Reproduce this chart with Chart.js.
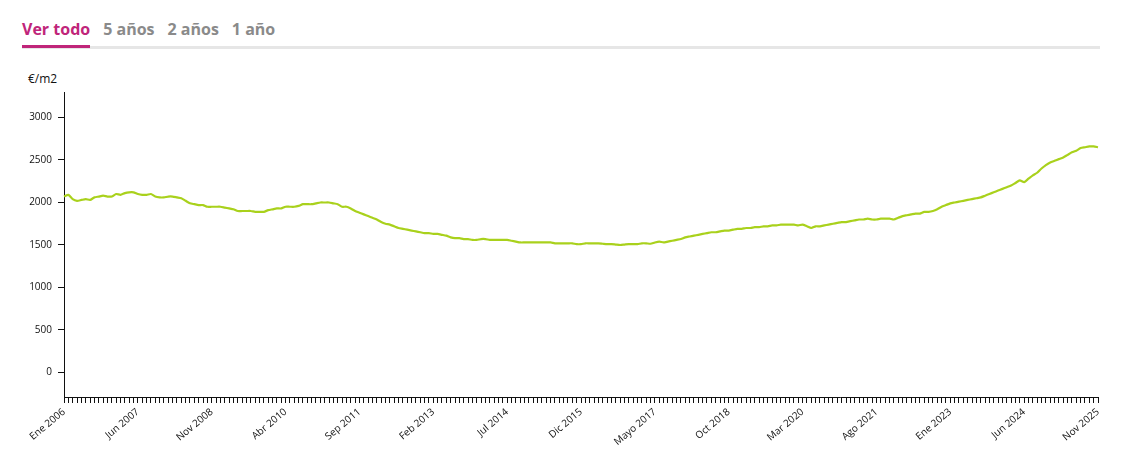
<!DOCTYPE html>
<html><head><meta charset="utf-8">
<script src="https://cdn.jsdelivr.net/npm/chart.js"></script>
<style>
body{margin:0;background:#fff;font-family:"Open Sans",sans-serif;}
.tabs{position:absolute;left:22px;top:18px;width:1078px;height:28px;border-bottom:3px solid #e6e6e6;}
.tabs span{display:inline-block;margin-right:13px;font-size:16px;font-weight:700;color:#8a8a8a;padding-bottom:5px;}
.tabs span.on{color:#c0257a;border-bottom:3px solid #c0257a;}
.unit{position:absolute;left:28px;top:70px;font-size:12px;color:#111;}
#wrap{position:absolute;left:0;top:80px;width:1110px;height:371px;}
</style></head><body>
<div class="tabs"><span class="on">Ver todo</span><span>5 años</span><span>2 años</span><span>1 año</span></div>
<div class="unit">€/m2</div>
<div id="wrap"><canvas id="myChart"></canvas></div>
<script>
const monthNames = ["Ene","Feb","Mar","Abr","Mayo","Jun","Jul","Ago","Sep","Oct","Nov","Dic"]
const yTicks = [0,500,1000,1500,2000,2500,3000]
const prices = [
 2070,2090,2040,2020,2030,2040,2030,2060,2070,2080,2070,2070,
 2100,2090,2110,2120,2120,2100,2090,2090,2100,2070,2060,2060,
 2070,2070,2060,2050,2020,1990,1980,1970,1970,1950,1950,1950,
 1950,1940,1930,1920,1900,1900,1900,1900,1890,1890,1890,1910,
 1920,1930,1930,1950,1950,1950,1960,1980,1980,1980,1990,2000,
 2000,2000,1990,1980,1950,1950,1930,1900,1880,1860,1840,1820,
 1800,1770,1750,1740,1720,1700,1690,1680,1670,1660,1650,1640,
 1640,1630,1630,1620,1610,1590,1580,1580,1570,1570,1560,1560,
 1570,1570,1560,1560,1560,1560,1560,1550,1540,1530,1530,1530,
 1530,1530,1530,1530,1530,1520,1520,1520,1520,1520,1510,1510,
 1520,1520,1520,1520,1515,1510,1510,1505,1500,1505,1510,1510,
 1510,1520,1520,1515,1530,1540,1530,1540,1550,1560,1570,1590,
 1600,1610,1620,1630,1640,1650,1650,1660,1670,1670,1680,1690,
 1690,1700,1700,1710,1710,1720,1720,1730,1730,1740,1740,1740,
 1740,1730,1740,1720,1700,1720,1720,1730,1740,1750,1760,1770,
 1770,1780,1790,1800,1800,1810,1800,1800,1810,1810,1810,1800,
 1820,1840,1850,1860,1870,1870,1890,1890,1900,1920,1950,1970,
 1990,2000,2010,2020,2030,2040,2050,2060,2080,2100,2120,2140,
 2160,2180,2200,2230,2260,2240,2280,2320,2350,2400,2440,2470,
 2490,2510,2530,2560,2590,2610,2640,2650,2660,2660,2650
]
const labels = prices.map((v,i)=> monthNames[i%12]+" "+(2006+Math.floor(i/12)))

new Chart(document.getElementById('myChart'), {
  type:'line',
  data:{labels:labels,datasets:[{data:prices,borderColor:'#a9d11c',borderWidth:2.2,pointRadius:0,tension:0.2,fill:false}]},
  options:{
    responsive:true,maintainAspectRatio:false,animation:false,
    layout:{padding:{right:12,top:1}},
    plugins:{legend:{display:false},tooltip:{enabled:false}},
    scales:{
      x:{grid:{drawOnChartArea:false,color:'#111',tickLength:5},border:{color:'#111'},
         ticks:{autoSkip:false,maxRotation:40,minRotation:40,color:'#111',font:{size:10,family:'Open Sans'},
           callback:(v,i)=> i%17===0 ? labels[i] : ''}},
      y:{min:-300,max:3300,grid:{drawOnChartArea:false,color:'#111',tickLength:6},border:{color:'#111'},
         afterFit:a=>{a.width=64},
         afterBuildTicks:a=>{a.ticks=yTicks.map(v=>({value:v}))},
         ticks:{color:'#111',font:{size:10,family:'Open Sans'},padding:6,callback:v=>String(v)}}
    }
  }
})
</script></body></html>
